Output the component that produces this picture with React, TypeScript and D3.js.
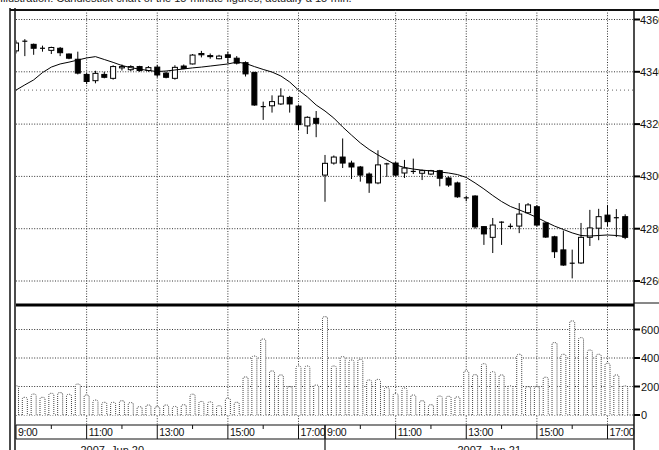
import * as d3 from 'd3';

// 15-minute bars, two sessions (Jun 20 / Jun 21), 9:00 .. 17:30 each
const opens = [
  4348, 4351.5, 4350.5, 4349, 4348.2, 4349, 4346.8, 4344.8, 4339, 4336.6,
  4339, 4337.5, 4341.5, 4340.8, 4342, 4340.5, 4341.8, 4339.5, 4337.5, 4342.2,
  4343, 4347, 4346.2, 4345, 4346.5, 4345.2, 4343.5, 4339.7, 4326.7, 4327,
  4327.7, 4330.2, 4326.9, 4319.3, 4322.2,
  4300.5, 4305.1, 4307.4, 4305.1, 4303.6, 4300.9, 4297.5, 4304.6, 4305.1, 4301.3,
  4301.9, 4301.2, 4300.9, 4302.2, 4299.4, 4297.5, 4291.8, 4292.5, 4280.8, 4276.7,
  4282.3, 4280.9, 4281, 4286.1, 4288.4, 4282.2, 4276.9, 4271.9, 4266.5, 4266.9,
  4276.7, 4280.2, 4285.2, 4284.2, 4284.6,
];
const closes = [
  4351, 4351.7, 4349, 4349, 4349.3, 4347.3, 4345.2, 4339.5, 4336.3, 4339.4,
  4337.9, 4342, 4342, 4342, 4340.5, 4341.6, 4338.8, 4337.9, 4341.7, 4341.3,
  4346.4, 4346.5, 4345.8, 4346, 4345.5, 4343.3, 4339.2, 4327.3, 4326.7, 4328.6,
  4330.7, 4327.7, 4319.8, 4322.6, 4320.3,
  4305, 4307.4, 4305.1, 4303.6, 4300.5, 4297.5, 4304.4, 4304.8, 4300.5, 4303.2,
  4301.6, 4302.2, 4302.2, 4299.3, 4296.7, 4292.2, 4291.6, 4280.7, 4278, 4281.4,
  4282.5, 4280.7, 4285.6, 4289.1, 4281.4, 4276.8, 4271.2, 4266.1, 4266.8, 4276.7,
  4280.3, 4284.6, 4282.7, 4284, 4276.7,
];
const highs = [
  4352, 4352.5, 4350.8, 4350, 4349.6, 4349.5, 4347, 4347.7, 4339.5, 4340.4,
  4340, 4342.5, 4342.8, 4342.5, 4342.3, 4342.2, 4342.6, 4340, 4342.5, 4342.8,
  4346.8, 4348, 4347, 4346.5, 4347.7, 4346, 4344, 4340, 4328.6, 4331,
  4333.7, 4330.8, 4327.3, 4323, 4325,
  4308.2, 4308, 4314.5, 4306, 4304, 4301.5, 4310, 4305.2, 4305.5, 4306.3,
  4306.8, 4302.6, 4302.5, 4302.5, 4300, 4298, 4292.5, 4292.8, 4281, 4284.1,
  4282.8, 4282, 4289.8, 4289.8, 4289, 4282.5, 4277.3, 4279.3, 4272, 4282.2,
  4287.2, 4287.6, 4289.1, 4287.5, 4285.5,
];
const lows = [
  4347, 4346, 4346.5, 4347.7, 4346.8, 4346, 4344.8, 4339, 4335.3, 4335.6,
  4337.5, 4337, 4340.5, 4340.3, 4340, 4340, 4337.8, 4337.5, 4337, 4341,
  4342.8, 4345.5, 4345, 4344.8, 4343.3, 4342.8, 4338.2, 4327, 4321.6, 4324.4,
  4327.3, 4324.4, 4317.7, 4316.2, 4315,
  4290.3, 4304.5, 4303.2, 4299, 4298, 4293.7, 4297, 4299.8, 4300, 4299.4,
  4300.9, 4298.6, 4300.5, 4296.2, 4296, 4291.8, 4290.5, 4280, 4273.8, 4270.7,
  4273.8, 4280, 4278.3, 4285.8, 4280.8, 4276.5, 4268.8, 4265.8, 4261, 4266.5,
  4273.4, 4275.6, 4280.9, 4276.8, 4276,
];
// moving average line
const maLine = [
  4333, 4335, 4336.9, 4339.7, 4341.8, 4343, 4343.7, 4344.5, 4345.3, 4345.8,
  4344.7, 4343.6, 4342.4, 4341.6, 4341, 4340.5, 4340.1, 4340.3, 4340.7, 4341.1,
  4341.5, 4341.8, 4342.2, 4342.6, 4343, 4343.7, 4343.2, 4342, 4340.9, 4339.9,
  4338.4, 4336.1, 4333, 4330.4, 4327.3,
  4325, 4322.3, 4318.9, 4315.8, 4312.8, 4310.3, 4308.2, 4306.3, 4304.4, 4303.4,
  4302.8, 4302.4, 4302.1, 4301.7, 4301.3, 4300.7, 4299.6, 4297.5, 4295.2, 4292.7,
  4290.4, 4288.5, 4287.2, 4285.8, 4284.3, 4282.6, 4281, 4279.7, 4278.4, 4277.4,
  4277.2, 4277.4, 4277.6, 4277.4, 4277,
];
const volumes = [
  205, 124, 147, 124, 152, 157, 145, 217, 140, 105,
  89, 89, 100, 87, 58, 70, 58, 70, 60, 72,
  146, 95, 92, 65, 117, 89, 267, 414, 533, 309,
  281, 199, 344, 344, 210,
  690, 344, 409, 386, 390, 246, 250, 192, 150, 190,
  140, 100, 72, 133, 131, 127, 309, 283, 360, 304,
  281, 204, 426, 199, 199, 265, 508, 426, 660, 543,
  456, 426, 363, 281, 204,
];
const priceTicks = [4260, 4280, 4300, 4320, 4340, 4360];
const refLevel = 4333;
const volumeTicks = [0, 200, 400, 600];
const timeTickIdx = [0, 8, 16, 24, 32, 35, 43, 51, 59, 67];
const timeTickLabels = ['9:00', '11:00', '13:00', '15:00', '17:00', '9:00', '11:00', '13:00', '15:00', '17:00'];
const minorTickIdx = [4, 12, 20, 28, 39, 47, 55, 63];
const gridIdx = [8, 16, 24, 32, 43, 51, 59, 67];
const dayStartIdx = 35;
const dayLabels = ['2007, Jun 20', '2007, Jun 21'];
const dayLabelIdx = [7.3, 50];
const caption = 'Illustration: Candlestick chart of the 15-minute figures, actually a 15-min.';

const W = 659;
const H = 450;
const left = 16;
const right = 634;
const top = 10;
const sepY = 305;
const axisY = 425;
const font = '"Liberation Sans", Arial, sans-serif';

export default function App() {
  const x = d3.scaleLinear().domain([0, 70]).range([left, right]);
  const y = d3.scaleLinear().domain([4260, 4360]).range([281, 19.5]);
  const yv = d3.scaleLinear().domain([0, 600]).range([415, 329.5]);

  const maPath = d3.line<number>()
    .x((_, i) => x(i))
    .y((d) => y(d))(maLine) || '';

  const bw = 5;
  const vw = 5;
  const dots = '1,1.6';

  return (
    <div style={{ position: 'absolute', left: 0, top: 0 }}>
      <svg width={W} height={H} style={{ display: 'block', background: '#fff' }}>
        <defs>
          <clipPath id="plot">
            <rect x={left} y={top} width={right - left} height={axisY - top} />
          </clipPath>
        </defs>

        <text x={0} y={2} fontFamily={font} fontSize={11} fill="#222">{caption}</text>

        {/* frame */}
        <line x1={10} x2={10} y1={8} y2={H} stroke="#111" strokeWidth={1.5} />
        <line x1={15} x2={15} y1={8} y2={H} stroke="#111" strokeWidth={1.5} />
        <line x1={10} x2={W} y1={top} y2={top} stroke="#111" strokeWidth={2} />
        <line x1={right} x2={right} y1={top} y2={H} stroke="#111" strokeWidth={1.5} />

        {/* horizontal price grid */}
        {priceTicks.map((t) => (
          <line key={'pg' + t} x1={left} x2={right} y1={y(t)} y2={y(t)}
            stroke="#333" strokeDasharray={dots} strokeWidth={1} />
        ))}
        <line x1={left} x2={right} y1={y(refLevel)} y2={y(refLevel)}
          stroke="#666" strokeDasharray="1,3" strokeWidth={1} />

        {/* volume grid */}
        {volumeTicks.map((t) => (
          <line key={'vg' + t} x1={left} x2={right} y1={yv(t)} y2={yv(t)}
            stroke="#333" strokeDasharray={dots} strokeWidth={1} />
        ))}

        {/* vertical grid */}
        {gridIdx.map((i) => (
          <line key={'xg' + i} x1={x(i)} x2={x(i)} y1={top} y2={axisY}
            stroke="#333" strokeDasharray={dots} strokeWidth={1} />
        ))}

        <g clipPath="url(#plot)">
          {/* volume bars */}
          {volumes.map((v, i) => {
            const x0 = x(i) - vw / 2;
            const y0 = yv(v);
            const b = yv(0);
            const r = 2;
            const d = `M${x0},${b} V${y0 + r} Q${x0},${y0} ${x0 + r},${y0} H${x0 + vw - r} Q${x0 + vw},${y0} ${x0 + vw},${y0 + r} V${b}`;
            return (
              <path key={'v' + i} d={d} fill="#fff" stroke="#444"
                strokeWidth={1} strokeDasharray="1,1" />
            );
          })}

          {/* candles */}
          {opens.map((o, i) => {
            const c = closes[i];
            const up = c >= o;
            const yt = y(Math.max(o, c));
            const yb = y(Math.min(o, c));
            const cx = x(i);
            return (
              <g key={'c' + i}>
                <line x1={cx} x2={cx} y1={y(highs[i])} y2={y(lows[i])} stroke="#000" strokeWidth={1} />
                {yb - yt < 1 ? (
                  <line x1={cx - bw / 2} x2={cx + bw / 2} y1={yt} y2={yt} stroke="#000" strokeWidth={1.2} />
                ) : (
                  <rect x={cx - bw / 2} y={yt} width={bw} height={yb - yt}
                    fill={up ? '#fff' : '#000'} stroke="#000" strokeWidth={1} />
                )}
              </g>
            );
          })}

          <path d={maPath} fill="none" stroke="#000" strokeWidth={1} />
        </g>

        {/* panel separator */}
        <line x1={left} x2={right} y1={sepY} y2={sepY} stroke="#000" strokeWidth={3} />
        <line x1={right} x2={W} y1={sepY - 2} y2={sepY - 2} stroke="#111" strokeWidth={1} />

        {/* right axis labels */}
        {priceTicks.map((t) => (
          <g key={'pl' + t}>
            <line x1={right} x2={right + 6} y1={y(t)} y2={y(t)} stroke="#000" strokeWidth={2} />
            <text x={right + 6} y={y(t) + 4} fontFamily={font} fontSize={11} fill="#111">{t}</text>
          </g>
        ))}
        {volumeTicks.map((t) => (
          <g key={'vl' + t}>
            <line x1={right} x2={right + 6} y1={yv(t)} y2={yv(t)} stroke="#000" strokeWidth={2} />
            <text x={right + 7} y={yv(t) + 4} fontFamily={font} fontSize={11} fill="#111">{t}</text>
          </g>
        ))}

        {/* time axis */}
        <line x1={left} x2={right} y1={axisY} y2={axisY} stroke="#111" strokeWidth={1.2} />
        <line x1={left} x2={right} y1={439} y2={439} stroke="#111" strokeWidth={1} />
        {timeTickIdx.map((i, k) => (
          <g key={'t' + k}>
            <line x1={x(i)} x2={x(i)} y1={axisY} y2={439} stroke="#111" strokeWidth={1} />
            <text x={x(i) + 2} y={436} fontFamily={font} fontSize={10.5} fill="#111"
              letterSpacing={-0.3}>{timeTickLabels[k]}</text>
          </g>
        ))}
        {minorTickIdx.map((i) => (
          <line key={'m' + i} x1={x(i)} x2={x(i)} y1={axisY} y2={axisY + 4} stroke="#111" strokeWidth={1} />
        ))}
        <line x1={x(dayStartIdx)} x2={x(dayStartIdx)} y1={axisY} y2={H} stroke="#111" strokeWidth={1.2} />
        {dayLabels.map((l, k) => (
          <text key={'d' + k} x={x(dayLabelIdx[k])} y={454} fontFamily={font} fontSize={11} fill="#111">{l}</text>
        ))}
      </svg>
    </div>
  );
}
